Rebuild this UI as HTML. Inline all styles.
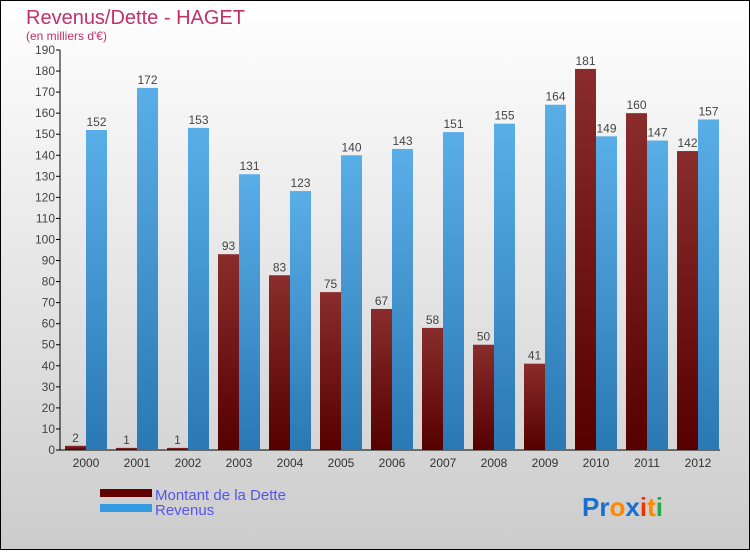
<!DOCTYPE html>
<html><head><meta charset="utf-8"><style>
html,body{margin:0;padding:0}
body{width:750px;height:550px;overflow:hidden;font-family:"Liberation Sans",sans-serif}
</style></head><body>
<svg width="750" height="550" xmlns="http://www.w3.org/2000/svg">
<defs>
<linearGradient id="bg" x1="0" y1="0" x2="0" y2="1"><stop offset="0" stop-color="#ffffff"/><stop offset="1" stop-color="#cccccc"/></linearGradient>
<linearGradient id="gr" x1="0" y1="0" x2="0" y2="1"><stop offset="0" stop-color="#8a2c2c"/><stop offset="1" stop-color="#560000"/></linearGradient>
<linearGradient id="gb" x1="0" y1="0" x2="0" y2="1"><stop offset="0" stop-color="#5aaee8"/><stop offset="1" stop-color="#2a78b4"/></linearGradient>
</defs>
<rect x="0.5" y="0.5" width="749" height="549" fill="url(#bg)" stroke="#000"/>
<text x="26" y="24" font-size="20" fill="#c0306a">Revenus/Dette - HAGET</text>
<text x="26" y="40" font-size="12" fill="#c0306a">(en milliers d'€)</text>
<g id="axes"></g>
<g id="bars"></g>
<g>
<rect x="100" y="489" width="52" height="8" fill="#600000"/>
<text x="155" y="500" font-size="15" fill="#5555ee">Montant de la Dette</text>
<rect x="100" y="504" width="52" height="8" fill="#3399e0"/>
<text x="155" y="515" font-size="15" fill="#5555ee">Revenus</text>
</g>
<g font-size="26" font-weight="bold">
<text x="582" y="516"><tspan fill="#1a6fd0">Pr</tspan><tspan fill="#ff8800">o</tspan><tspan fill="#1a6fd0">x</tspan><tspan fill="#ee3300">i</tspan><tspan fill="#ff8800">t</tspan><tspan fill="#22aa44">i</tspan></text>
</g>
</svg>
<script>
const years=["2000","2001","2002","2003","2004","2005","2006","2007","2008","2009","2010","2011","2012"];
const dette=[2,1,1,93,83,75,67,58,50,41,181,160,142];
const revenus=[152,172,153,131,123,140,143,151,155,164,149,147,157];
const yTicks=[0,10,20,30,40,50,60,70,80,90,100,110,120,130,140,150,160,170,180,190];
const NS="http://www.w3.org/2000/svg";
const y0=450,ppu=400/190,x0=86,step=51,bw=21;
const Y=v=>y0-v*ppu, X=i=>x0+i*step;
function mk(t,a,p){const e=document.createElementNS(NS,t);for(const k in a)e.setAttribute(k,a[k]);p.appendChild(e);return e;}
const ax=document.getElementById('axes'),bg=document.getElementById('bars');
const yl=mk('line',{x1:60,y1:Y(190),x2:60,y2:y0,stroke:'#000'},ax);


const xl=mk('line',{x1:60,y1:y0,x2:720,y2:y0,stroke:'#000'},ax);


yTicks.forEach(v=>{
 mk('line',{x1:56,y1:Y(v),x2:60,y2:Y(v),stroke:'#000'},ax);
 const t=mk('text',{x:55,y:Y(v)+4,'font-size':12,fill:'#444','text-anchor':'end'},ax);
 t.textContent=v;
 
 
});
years.forEach((yr,i)=>{
 const t=mk('text',{x:X(i),y:467,'font-size':12,fill:'#333','text-anchor':'middle'},ax);
 t.textContent=yr;
 
 
 const r=mk('rect',{x:X(i)-bw,y:Y(dette[i]),width:bw,height:dette[i]*ppu,fill:'url(#gr)'},bg);
 
 
 const b=mk('rect',{x:X(i),y:Y(revenus[i]),width:bw,height:revenus[i]*ppu,fill:'url(#gb)'},bg);
 
 
 const lr=mk('text',{x:X(i)-bw/2,y:Y(dette[i])-4,'font-size':12,fill:'#444','text-anchor':'middle'},bg);
 lr.textContent=dette[i];
 
 
 const lb=mk('text',{x:X(i)+bw/2,y:Y(revenus[i])-4,'font-size':12,fill:'#444','text-anchor':'middle'},bg);
 lb.textContent=revenus[i];
 
 
});
</script>
</body></html>
